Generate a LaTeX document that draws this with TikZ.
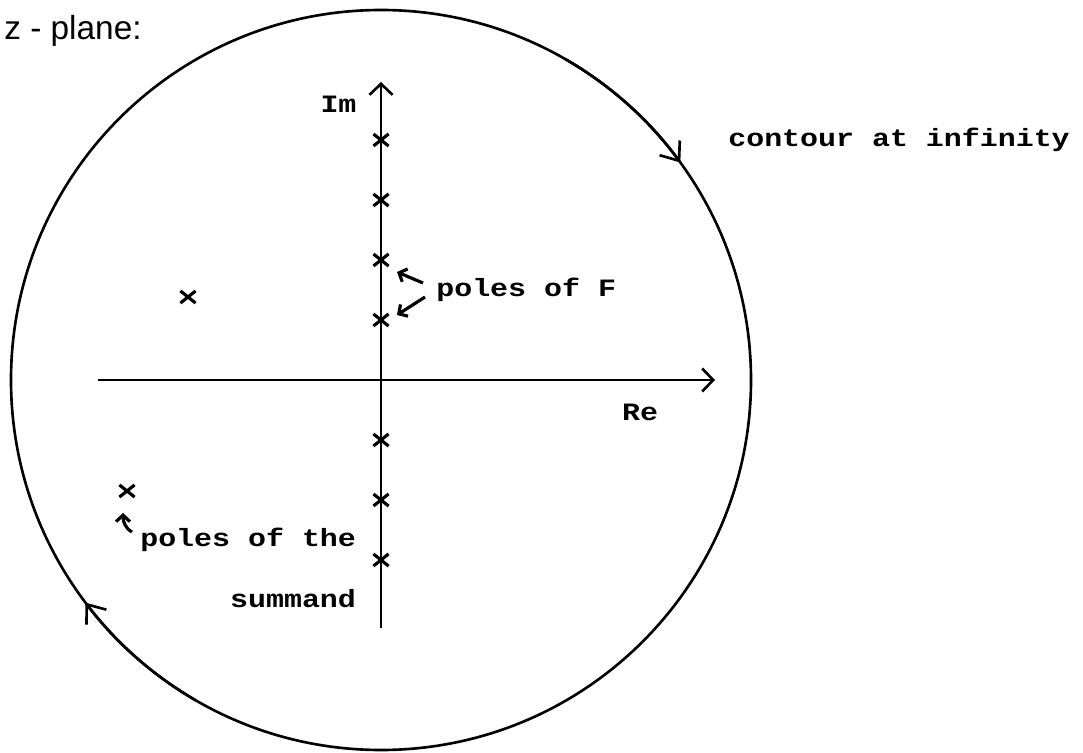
\documentclass[tikz,border=0pt]{standalone}
\usepackage{fontspec}
\setmainfont{Liberation Sans}
\newfontfamily\printfont[FakeStretch=1.2]{Liberation Mono}
\usetikzlibrary{arrows.meta,shapes.misc,positioning}

\begin{document}
\begin{tikzpicture}[>={Straight Barb[length=2.2mm,width=4.6mm]}, line width=1.5pt,
    lbl/.style={font=\fontsize{14.2}{17}\selectfont\printfont\bfseries, inner sep=0pt},
    pole/.style={cross out, draw, line width=1.8pt, inner sep=0pt,
        minimum width=2.4mm, minimum height=1.8mm},
    ptr/.style={-{Straight Barb[length=1.3mm,width=2.8mm]}, line width=1.8pt},
    flow/.style={-{Straight Barb[length=3.2mm,width=5mm]}}]
    \useasboundingbox (-7.62,-7.44) rectangle (14.04,7.6);

    \draw (0,0) circle (7.4);
    \draw[flow] (60:7.4) arc[start angle=60,end angle=36,radius=7.4];
    \draw[flow] (240:7.4) arc[start angle=240,end angle=217,radius=7.4];

    \draw[->] (-5.66,0) -- (6.68,0);
    \draw[->] (0,-4.96) -- (0,5.96);

    \foreach \y [count=\i] in {4.8,3.6,2.4,1.2,-1.2,-2.4,-3.6}
        \node[pole] (p\i) at (0,\y) {};
    \node[pole] (q1) at (-3.86,1.66) {};
    \node[pole] (q2) at (-5.08,-2.22) {};

    \node[font=\fontsize{19}{22}\selectfont, inner sep=0pt, anchor=base west]
        (zplane) at (-7.56,6.8) {z - plane:};
    \node[lbl, anchor=base] (im) at (-0.85,5.34) {Im};
    \node[lbl, anchor=base] (re) at (5.18,-0.8) {Re};
    \node[lbl, anchor=base west] (contour) at (6.92,4.66) {contour at infinity};

    \node[lbl, anchor=base west] (polesF) at (1.08,1.66) {poles of F};
    \draw[ptr] ([shift={(-0.24,0.28)}]polesF.base west) -- ([shift={(0.32,-0.24)}]p3.center);
    \draw[ptr] ([shift={(-0.2,0.0)}]polesF.base west) -- ([shift={(0.32,0.1)}]p4.center);

    \node[lbl, anchor=base west] (polesS) at (-4.84,-3.32) {poles of the};
    \node[lbl, anchor=base east] (summand) at ([yshift=-1.22cm]polesS.base east) {summand};
    \draw[ptr] ([shift={(-0.14,0.28)}]polesS.base west) to[out=150,in=-90]
        ([shift={(-0.08,-0.44)}]q2.center);
\end{tikzpicture}
\end{document}
